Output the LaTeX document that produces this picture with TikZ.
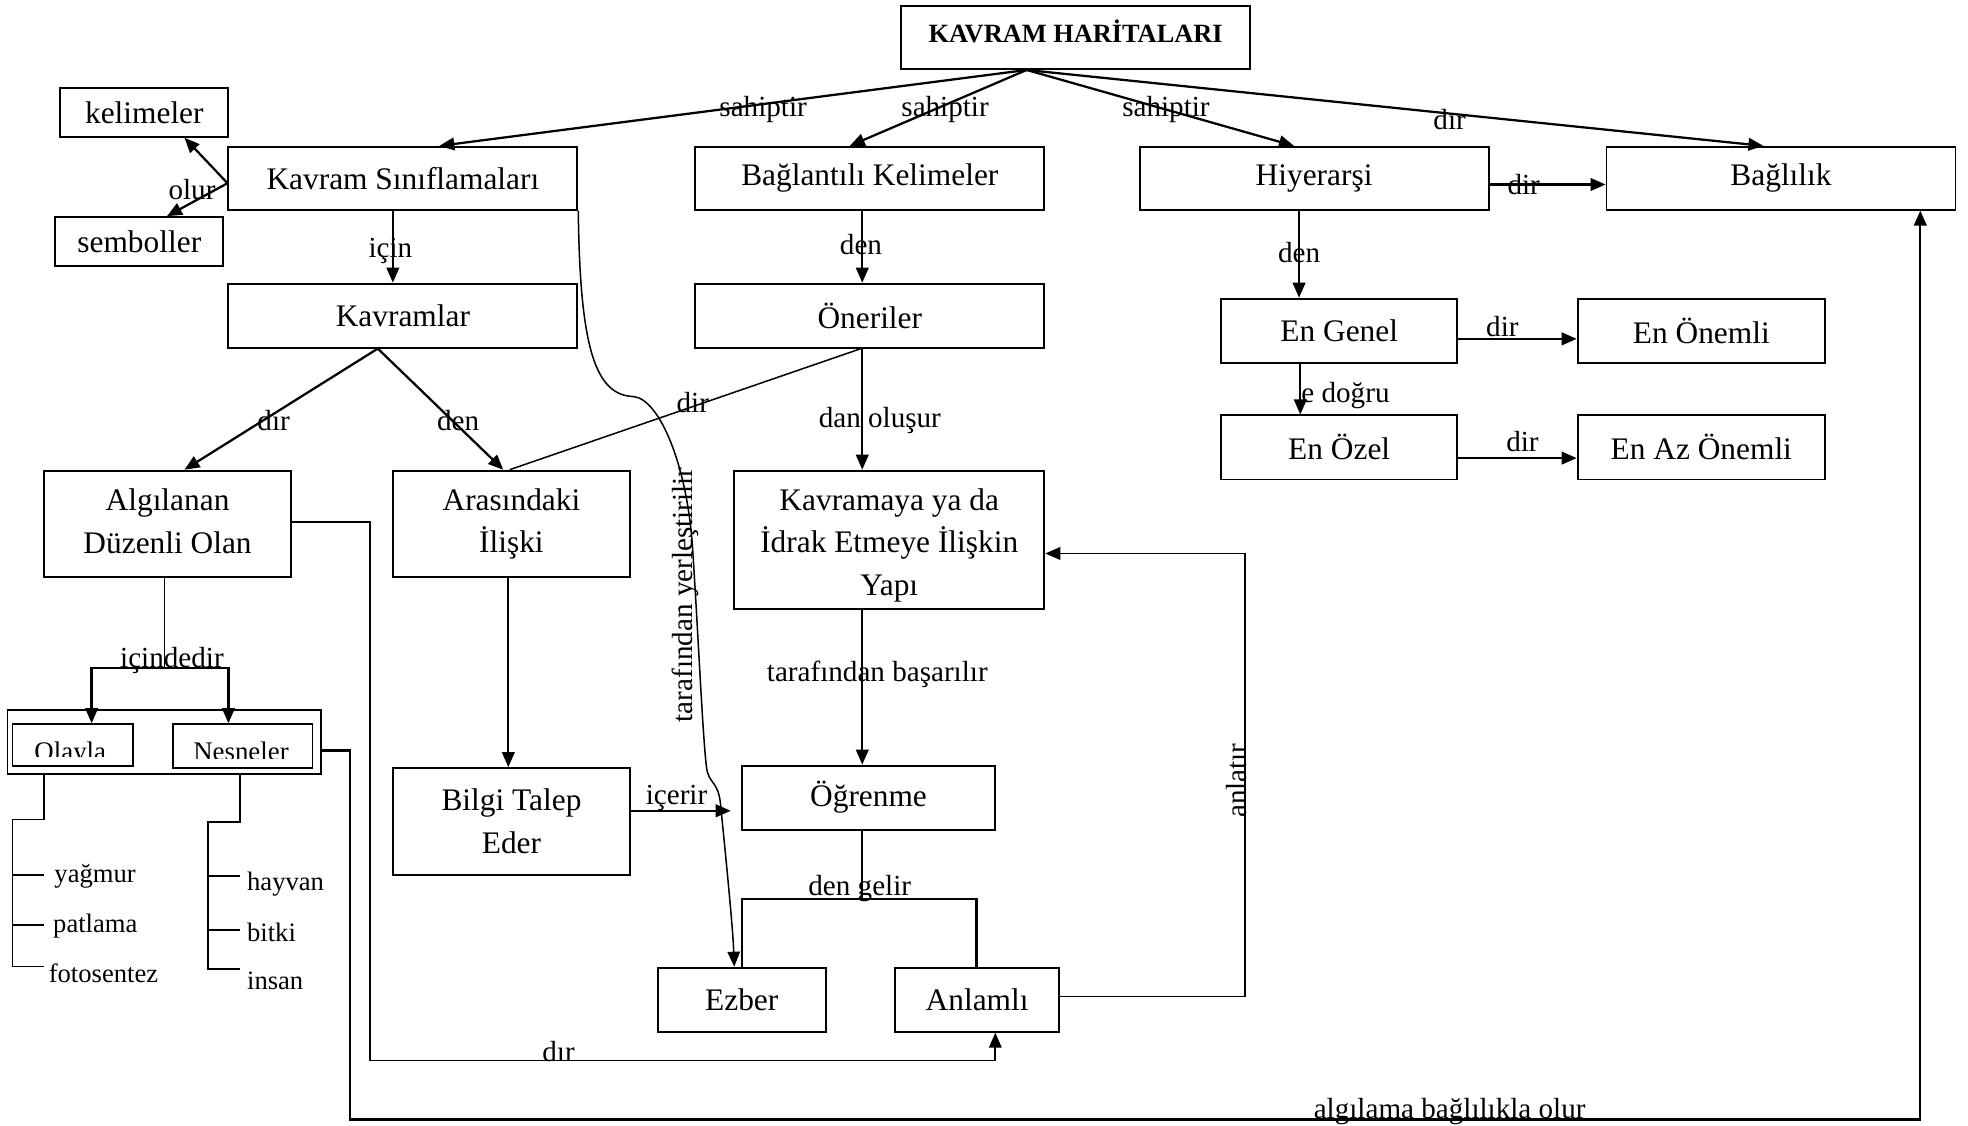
\documentclass[tikz,border=0pt]{standalone}
\usepackage{fontspec}
\setmainfont{Liberation Serif}
\usetikzlibrary{arrows.meta}
\begin{document}
\begin{tikzpicture}[x=0.5pt,y=-0.5pt,
  box/.style={draw,line width=0.75pt,rectangle,inner sep=0pt,font=\fontsize{12.5}{17}\selectfont,align=center},
  boxtext/.style={inner sep=0pt,font=\fontsize{12.5}{17}\selectfont,align=center},
  lbl/.style={inner sep=0pt,font=\fontsize{11.6}{13}\selectfont},
  item/.style={inner sep=0pt,anchor=west,font=\fontsize{10.6}{12}\selectfont},
  arr/.style={line width=0.9pt,-{Triangle[length=6pt,width=5pt]}},
  thinarr/.style={line width=0.7pt,-{Triangle[length=6pt,width=5pt]}},
  con/.style={line width=0.9pt},
  thinline/.style={line width=0.6pt},
  listline/.style={line width=0.7pt},
]
\useasboundingbox (0,0) rectangle (1568,897);

% ---------- boxes ----------
\node[box,minimum width=139pt,minimum height=25pt] (title) at (857,30) {};
\node[inner sep=0pt,font=\fontsize{10.5}{12}\selectfont\bfseries] (titletxt) at (857,25) {KAVRAM HARİTALARI};

\node[box,minimum width=67pt,minimum height=19.5pt] (kel) at (115,89.5) {kelimeler};
\node[box,minimum width=67pt,minimum height=19.5pt] (sem) at (111,192.5) {semboller};

\node[box,minimum width=139pt,minimum height=25pt] (ks) at (321,142) {Kavram Sınıflamaları};
\node[box,minimum width=139pt,minimum height=25pt] (bk) at (693,142) {Bağlantılı Kelimeler};
\node[box,minimum width=139pt,minimum height=25pt] (hy) at (1047,142) {Hiyerarşi};
\node[box,minimum width=139pt,minimum height=25pt] (bg) at (1419,142) {Bağlılık};

\node[box,minimum width=139pt,minimum height=25.5pt] (kv) at (321,251.5) {Kavramlar};
\node[box,minimum width=139pt,minimum height=25.5pt] (on) at (693,251.5) {Öneriler};

\node[box,minimum width=94pt,minimum height=25.5pt] (eg) at (1067,263.5) {En Genel};
\node[box,minimum width=98.5pt,minimum height=25.5pt] (eo) at (1355.5,263.5) {En Önemli};
\node[box,minimum width=94pt,minimum height=25.5pt] (ez) at (1067,356.5) {En Özel};
\node[box,minimum width=98.5pt,minimum height=25.5pt] (eaz) at (1355.5,356.5) {En Az Önemli};

\node[box,minimum width=98.5pt,minimum height=42.5pt] (alg) at (133.5,417.5) {};
\node[boxtext] (algtxt) at (133.5,415.5) {Algılanan\\Düzenli Olan};
\node[box,minimum width=94.5pt,minimum height=42.5pt] (ara) at (407.5,417.5) {Arasındaki\\İlişki};
\node[box,minimum width=123.5pt,minimum height=55pt] (kay) at (708.5,430) {};
\node[boxtext] (kaytxt) at (708.5,434.5) {Kavramaya ya da\\İdrak Etmeye İlişkin\\Yapı};

\node[box,minimum width=125pt,minimum height=25.5pt] (cont) at (131,591.5) {};
\node[box,minimum width=48pt,minimum height=16.5pt] (ol) at (58,593.5) {};
\node[box,minimum width=55.5pt,minimum height=17.5pt] (ns) at (193.5,594.5) {};
\begin{scope}
  \clip (11,578) rectangle (105,603);
  \node[inner sep=0pt,anchor=base,font=\fontsize{10.7}{12}\selectfont] (oltxt) at (56,606) {Olayla};
\end{scope}
\begin{scope}
  \clip (139,578) rectangle (248,604.5);
  \node[inner sep=0pt,anchor=base,font=\fontsize{10.7}{12}\selectfont] (nstxt) at (192,606) {Nesneler};
\end{scope}

\node[box,minimum width=94.5pt,minimum height=42.5pt] (bil) at (407.5,654.5) {Bilgi Talep\\Eder};
\node[box,minimum width=101pt,minimum height=25.5pt] (ogr) at (692,635.5) {Öğrenme};
\node[box,minimum width=67pt,minimum height=25.5pt] (ezb) at (591,796.5) {Ezber};
\node[box,minimum width=65.5pt,minimum height=25.5pt] (anl) at (778.5,796.5) {Anlamlı};

% ---------- connectors from the title ----------
\draw[arr] (title.south -| 818,0) -- (ks.north -| 350,0);
\draw[arr] (title.south -| 818,0) -- (bk.north -| 677,0);
\draw[arr] (title.south -| 818,0) -- (hy.north -| 1031,0);
\draw[arr] (title.south -| 818,0) -- (bg.north -| 1405,0);
\node[lbl] (l1) at (608,87) {sahiptir};
\node[lbl] (l2) at (753,87) {sahiptir};
\node[lbl] (l3) at (929,87) {sahiptir};
\node[lbl] (l4) at (1155,95) {dır};

% ---------- left upper branch ----------
\draw[arr] (ks.west |- 0,146) -- (kel.south -| 147,0);
\draw[arr] (ks.west |- 0,146) -- (sem.north -| 133,0);
\node[lbl] (l5) at (153,151) {olur};
\draw[arr] (ks.south -| 313,0) -- (kv.north -| 313,0);
\node[lbl] (l6) at (311,200) {için};

\draw[arr] (kv.south -| 301,0) -- (alg.north -| 147,0);
\node[lbl] (l7) at (218,335) {dır};
\draw[arr] (kv.south -| 301,0) -- (ara.north -| 401,0);
\node[lbl] (l8) at (365,335) {den};

% ---------- middle column ----------
\draw[arr] (bk.south -| 687,0) -- (on.north -| 687,0);
\node[lbl] (l9) at (686,195) {den};
\draw[thinline] (on.south -| 686,0) -- (ara.north -| 406,0);
\node[lbl] (l10) at (552,321) {dir};
\draw[arr] (on.south -| 687,0) -- (kay.north -| 687,0);
\node[lbl] (l11) at (701,335) {dan oluşur};
\draw[arr] (kay.south -| 687,0) -- (ogr.north -| 687,0);
\node[lbl] (l12) at (699,537) {tarafından başarılır};

\draw[arr] (ara.south -| 405,0) -- (bil.north -| 405,0);
\draw[arr] (bil.east |- 0,646) -- ([xshift=-4pt]ogr.west |- 0,646);
\node[lbl] (l13) at (539,636) {içerir};

% curved connector from Kavram Sınıflamaları down to Ezber
\draw[thinline,-{Triangle[length=6pt,width=5pt]}] (ks.south east)
  .. controls (462,280) and (475,315) .. (505,316)
  .. controls (525,318) and (548,370) .. (552,440)
  .. controls (556,500) and (560,590) .. (563,612)
  .. controls (565,625) and (572,622) .. (574,640)
  .. controls (578,680) and (584,740) .. (ezb.north -| 585,0);
\node[lbl,rotate=90] (l14) at (546,474) {tarafından yerleştirilir};

% Öğrenme splits into Ezber and Anlamlı
\coordinate (dg) at (687,716);
\draw[listline] (ogr.south -| 687,0) -- (dg);
\draw[con] (ezb.north -| 591,0) |- (dg) -| (anl.north -| 778,0);
\node[lbl] (l15) at (685,708) {den gelir};

% Anlamlı back to the structure box
\coordinate (anR) at (992,441);
\draw[thinarr] (anl.east |- 0,794) -| (anR) -- (kay.east |- anR);
\node[lbl,rotate=90] (l16) at (985,622) {anlatır};

% ---------- right column ----------
\draw[arr] (hy.south -| 1035,0) -- (eg.north -| 1035,0);
\node[lbl] (l17) at (1035,201) {den};
\draw[arr] (hy.east |- 0,147) -- (bg.west |- 0,147);
\node[lbl] (l18) at (1214,147) {dir};
\draw[arr] (eg.east |- 0,270) -- (eo.west |- 0,270);
\node[lbl] (l19) at (1197,260) {dir};
\draw[arr] (eg.south -| 1036,0) -- (ez.north -| 1036,0);
\node[lbl] (l20) at (1072,315) {e doğru};
\draw[arr] (ez.east |- 0,365) -- (eaz.west |- 0,365);
\node[lbl] (l21) at (1213,352) {dir};

% ---------- events and objects ----------
\coordinate (ic) at (131,532);
\draw[thinline] (alg.south -| 131,0) -- (ic);
\draw[arr] (ic) -| (ol.north -| 73,0);
\draw[arr] (ic) -| (ns.north -| 182,0);
\node[lbl] (l22) at (137,526) {içindedir};

\draw[listline] (cont.south -| 35,0) -- (35,653) -- (10,653) -- (10,770) -- (35,770);
\draw[listline] (10,697) -- (35,697);
\draw[listline] (10,737) -- (35,737);
\node[item] (i1) at (43,698.5) {yağmur};
\node[item] (i2) at (42,738) {patlama};
\node[item] (i3) at (38.5,775.5) {fotosentez};

\draw[listline] (cont.south -| 191,0) -- (191,655) -- (166,655) -- (166,772) -- (191,772);
\draw[listline] (166,698) -- (191,698);
\draw[listline] (166,741) -- (191,741);
\node[item] (i4) at (196.5,704.5) {hayvan};
\node[item] (i5) at (196.5,743) {bitki};
\node[item] (i6) at (196.5,781.5) {insan};

% ---------- long return lines ----------
\draw[thinarr] (alg.east |- 0,416) -| (295,845) -| (anl.south -| 793,0);
\node[lbl] (l23) at (445,838) {dır};

\draw[arr] (cont.east |- 0,598) -| (279,892) -| (bg.south -| 1530,0);
\node[lbl] (l24) at (1155,886) {algılama bağlılıkla olur};

\end{tikzpicture}
\end{document}
